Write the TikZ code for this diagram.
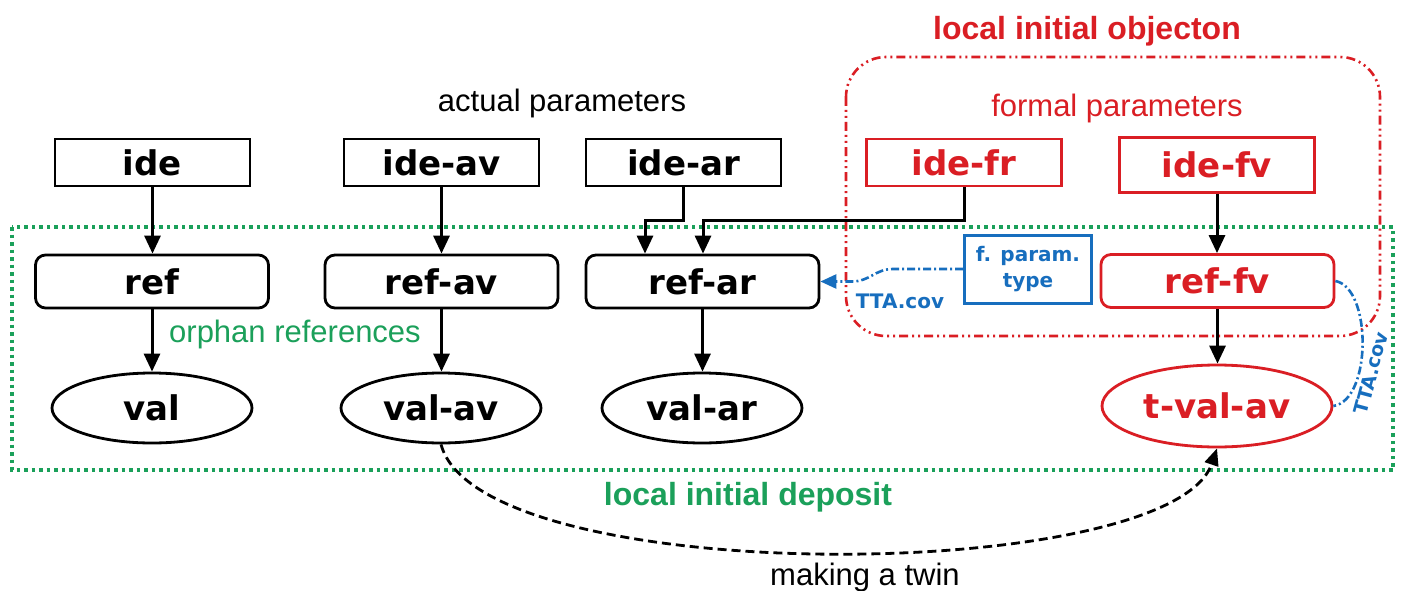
\documentclass[tikz,border=0pt]{standalone}
\usepackage{fontspec}
\setmainfont{Liberation Sans}
\newfontfamily\dvs{DejaVu Sans}
\usetikzlibrary{arrows.meta,shapes.geometric}
\definecolor{myred}{RGB}{218,30,36}
\definecolor{mygreen}{RGB}{27,160,90}
\definecolor{myblue}{RGB}{23,110,190}
\tikzset{
  nodefont/.style={font=\dvs\bfseries\fontsize{34}{40}\selectfont},
  idebox/.style={nodefont,draw,line width=2.8pt,minimum width=195pt,minimum height=47pt,inner sep=0pt,fill=white},
  refbox/.style={nodefont,draw,line width=2.8pt,rounded corners=10pt,minimum width=233pt,minimum height=53pt,inner sep=0pt,fill=white},
  valell/.style={nodefont,draw,ellipse,line width=2.8pt,minimum width=200pt,minimum height=70pt,inner sep=0pt,fill=white},
  redstyle/.style={draw=myred,text=myred},
  arr/.style={line width=3pt,-{Triangle[length=18pt,width=16pt]}},
  bluedash/.style={draw=myblue,line width=2.6pt,dash pattern=on 8pt off 3pt on 2pt off 3pt},
  labeltxt/.style={font=\fontsize{31}{36}\selectfont,inner sep=0pt,anchor=base},
  ttafont/.style={text=myblue,font=\dvs\bfseries\fontsize{20}{24}\selectfont,inner sep=0pt},
}
\begin{document}
\begin{tikzpicture}[x=1pt,y=-1pt]
\useasboundingbox[fill=white] (0,0) rectangle (1402,591);
% regions
\draw[mygreen,line width=3.5pt,dash pattern=on 3.5pt off 4pt] (12,227) rectangle (1393,470);
\draw[myred,line width=2.6pt,rounded corners=40pt,dash pattern=on 9pt off 4pt on 2pt off 4pt on 2pt off 4pt] (846,57) rectangle (1380,336);
% titles
\node[labeltxt,font=\bfseries\fontsize{32}{36}\selectfont,text=myred] (tobj) at (1087,40) {local initial objecton};
\node[labeltxt] (tact) at (562,112) {actual parameters};
\node[labeltxt,text=myred] (tform) at (1117,117) {formal parameters};
\node[labeltxt,text=mygreen] (torph) at (295,342) {orphan references};
\node[labeltxt,font=\bfseries\fontsize{32}{36}\selectfont,text=mygreen] (tdep) at (748,505) {local initial deposit};
\node[labeltxt] (ttwin) at (865,585) {making a twin};
% ide row
\node[idebox] (ide) at (152.5,162.5) {ide};
\node[idebox] (ideav) at (441.5,162.5) {ide-av};
\node[idebox] (idear) at (683.5,162.5) {ide-ar};
\node[idebox,redstyle] (idefr) at (964,162.5) {ide-fr};
\node[idebox,redstyle,minimum height=55pt] (idefv) at (1217,165) {ide-fv};
% ref row
\node[refbox] (ref) at (152,281.5) {ref};
\node[refbox] (refav) at (441.5,281.5) {ref-av};
\node[refbox] (refar) at (702.5,281.5) {ref-ar};
\node[refbox,redstyle] (reffv) at (1217.5,281) {ref-fv};
% val row
\node[valell] (val) at (152,408) {val};
\node[valell] (valav) at (441,408) {val-av};
\node[valell] (valar) at (702,408) {val-ar};
\node[valell,redstyle,minimum width=230pt,minimum height=82pt] (tva) at (1217,406) {t-val-av};
% formal parameter type box
\node[draw=myblue,text=myblue,line width=3pt,minimum width=127pt,minimum height=68pt,inner sep=0pt,align=center,
      font=\dvs\bfseries\fontsize{20}{26}\selectfont,fill=white] (fp) at (1028,269) {f. param.\\type};
% connectors
\draw[arr] (ide.south) -- (ide.south |- ref.north);
\draw[arr] (ref.south) -- (ref.south |- val.north);
\draw[arr] (ideav.south) -- (ideav.south |- refav.north);
\draw[arr] (refav.south) -- (refav.south |- valav.north);
\coordinate (ja) at (645,220);
\coordinate (jb) at (703,220);
\draw[arr] (idear.south) |- (ja) -- (ja |- refar.north);
\draw[arr] (idefr.south) |- (jb) -- (jb |- refar.north);
\draw[arr] (refar.south) -- (refar.south |- valar.north);
\draw[arr] (idefv.south) -- (idefv.south |- reffv.north);
\draw[arr] (reffv.south) -- (reffv.south |- tva.north);
% blue TTA.cov links
\coordinate (ba) at (893,269);
\coordinate (bb) at (852,281.5);
\draw[bluedash,-{Triangle[length=16pt,width=14pt]},myblue] (fp.west) -- (ba) .. controls (875,269) and (870,281.5) .. (bb) -- (refar.east);
\node[ttafont] (tta1) at (900,301) {TTA.cov};
\draw[bluedash] (reffv.east) .. controls (1372,288) and (1372,400) .. (tva.east);
\node[ttafont,font=\dvs\bfseries\fontsize{19}{24}\selectfont,rotate=75] (tta2) at (1371,373) {TTA.cov};
% making a twin
\draw[line width=2.8pt,dash pattern=on 9pt off 5pt,-{Triangle[length=17pt,width=14pt]}] (valav.south) .. controls (480,590) and (1170,585) .. (tva.south);
\end{tikzpicture}
\end{document}
